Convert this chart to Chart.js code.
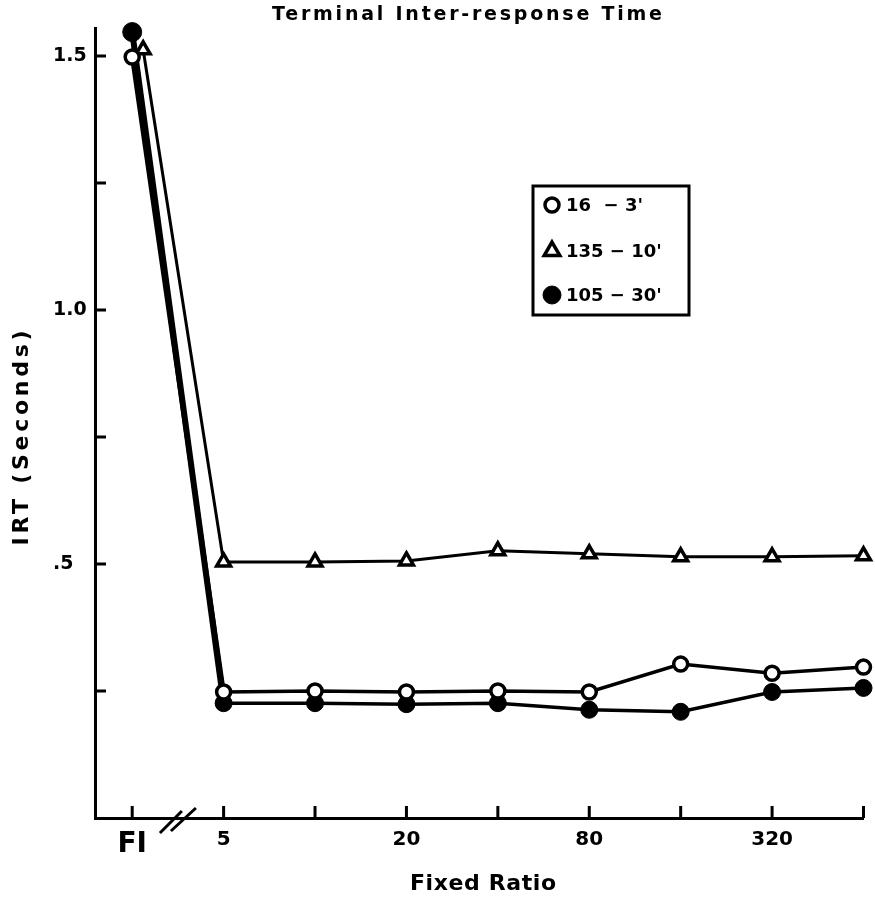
<!DOCTYPE html>
<html>
<head>
<meta charset="utf-8">
<title>Terminal Inter-response Time</title>
<style>
  html, body { margin: 0; padding: 0; background: #fff; }
  #wrap { width: 875px; height: 897px; }
</style>
<script src="https://cdn.jsdelivr.net/npm/chart.js@4.4.1/dist/chart.umd.min.js"></script>
</head>
<body>
<div id="wrap"><canvas id="irt"></canvas></div>
<script>
// schedules on the x axis: FI, then FR 5 ... 640 (only every other one is labelled)
const categories = ['FI', '5', '10', '20', '40', '80', '160', '320', '640'];
const xTickLabels = ['FI', '5', '', '20', '', '80', '', '320', ''];
const xPositions = [0, 1, 2, 3, 4, 5, 6, 7, 8];
// the triangle at FI sits a little to the right of the others
const trianglePositions = [0.12, 1, 2, 3, 4, 5, 6, 7, 8];

// IRT in seconds
const open16 = [1.498, 0.248, 0.25, 0.248, 0.25, 0.248, 0.303, 0.285, 0.297];
const tri135 = [1.512, 0.504, 0.504, 0.506, 0.526, 0.52, 0.514, 0.514, 0.516];
const filled105 = [1.547, 0.226, 0.226, 0.224, 0.226, 0.213, 0.209, 0.248, 0.256];

const legendLabels = ["16  \u2212 3'", "135 \u2212 10'", "105 \u2212 30'"];

const yTicks = [0, 0.25, 0.5, 0.75, 1.0, 1.25, 1.5];
const yTickLabels = ['', '', '.5', '', '1.0', '', '1.5'];

const FONT = '"DejaVu Sans", sans-serif';

function spacedText(ctx, text, x, y, width) {
  // draw text stretched to a given width with letter spacing, centred on x
  ctx.letterSpacing = '0px';
  const w0 = ctx.measureText(text).width;
  const sp = (width - w0) / (text.length - 1);
  ctx.letterSpacing = sp + 'px';
  ctx.textAlign = 'left';
  ctx.fillText(text, x - width / 2, y);
  ctx.letterSpacing = '0px';
}

const decor = {
  id: 'decor',
  beforeDatasetsDraw(chart) {
    const { ctx, chartArea: a, scales: { x, y } } = chart;
    ctx.save();
    ctx.strokeStyle = '#000';
    ctx.lineWidth = 3;
    ctx.beginPath();
    xPositions.forEach(v => {
      const px = x.getPixelForValue(v);
      ctx.moveTo(px, a.bottom);
      ctx.lineTo(px, a.bottom - 12);
    });
    yTicks.slice(1).forEach(v => {
      const py = y.getPixelForValue(v);
      ctx.moveTo(a.left, py);
      ctx.lineTo(a.left + 11, py);
    });
    ctx.stroke();

    // axis break between FI and 5
    const cx = x.getPixelForValue(0.5);
    ctx.beginPath();
    ctx.moveTo(cx - 18, a.bottom + 15);
    ctx.lineTo(cx + 4, a.bottom - 7);
    ctx.moveTo(cx - 7, a.bottom + 13);
    ctx.lineTo(cx + 18, a.bottom - 10);
    ctx.stroke();
    ctx.restore();
  },
  afterDraw(chart) {
    const { ctx } = chart;
    ctx.save();
    ctx.fillStyle = '#000';
    ctx.textBaseline = 'middle';

    ctx.font = 'bold 19px ' + FONT;
    spacedText(ctx, 'Terminal Inter-response Time', 467, 15, 390);

    ctx.font = 'bold 22px ' + FONT;
    spacedText(ctx, 'Fixed Ratio', 483, 884, 146);

    ctx.save();
    ctx.translate(22, 438);
    ctx.rotate(-Math.PI / 2);
    ctx.font = 'bold 22px ' + FONT;
    spacedText(ctx, 'IRT (Seconds)', 0, 0, 215);
    ctx.restore();

    // legend box
    ctx.strokeStyle = '#000';
    ctx.lineWidth = 3;
    ctx.strokeRect(533, 186, 156, 129);
    const rows = [205, 251, 295];
    chart.data.datasets.forEach((ds, i) => {
      ctx.lineWidth = ds.pointBorderWidth;
      ctx.strokeStyle = '#000';
      ctx.fillStyle = ds.legendFill;
      Chart.helpers.drawPoint(ctx, {
        pointStyle: ds.pointStyle,
        radius: ds.legendRadius,
        borderWidth: ds.pointBorderWidth,
        rotation: 0
      }, 552, rows[i]);
      ctx.fillStyle = '#000';
      ctx.font = 'bold 18px ' + FONT;
      ctx.textAlign = 'left';
      ctx.fillText(legendLabels[i], 566, rows[i] + 1);
    });
    ctx.restore();
  }
};

const ctx = document.getElementById('irt').getContext('2d');

new Chart(ctx, {
  type: 'line',
  data: {
    datasets: [
      {
        label: legendLabels[0],
        data: xPositions.map((v, i) => ({ x: v, y: open16[i] })),
        borderColor: '#000',
        borderWidth: 3.5,
        segment: { borderWidth: c => (c.p0DataIndex === 0 ? 4.5 : 3.5) },
        pointStyle: 'circle',
        pointRadius: 7,
        pointBorderWidth: 3.5,
        pointBackgroundColor: '#fff',
        pointBorderColor: '#000',
        legendFill: '#fff',
        legendRadius: 7,
        clip: false
      },
      {
        label: legendLabels[1],
        data: trianglePositions.map((v, i) => ({ x: v, y: tri135[i] })),
        borderColor: '#000',
        borderWidth: 3,
        pointStyle: 'triangle',
        pointRadius: 8,
        pointBorderWidth: 3.5,
        pointBackgroundColor: '#fff',
        pointBorderColor: '#000',
        legendFill: '#fff',
        legendRadius: 9,
        clip: false
      },
      {
        label: legendLabels[2],
        data: xPositions.map((v, i) => ({ x: v, y: filled105[i] })),
        borderColor: '#000',
        borderWidth: 3.5,
        segment: { borderWidth: c => (c.p0DataIndex === 0 ? 6 : 3.5) },
        pointStyle: 'circle',
        pointRadius: c => (c.dataIndex === 0 ? 9.5 : 8.5),
        pointBorderWidth: 1,
        pointBackgroundColor: '#000',
        pointBorderColor: '#000',
        legendFill: '#000',
        legendRadius: 9,
        clip: false
      }
    ]
  },
  options: {
    responsive: true,
    maintainAspectRatio: false,
    animation: false,
    devicePixelRatio: 1,
    layout: { padding: { left: 53, top: 28, right: 9, bottom: 0 } },
    scales: {
      x: {
        type: 'linear',
        min: -0.407,
        max: 8,
        afterBuildTicks: s => { s.ticks = xPositions.map(v => ({ value: v })); },
        afterFit: s => { s.height = 79; },
        grid: { display: false, drawTicks: false },
        border: { display: true, color: '#000', width: 3 },
        ticks: {
          autoSkip: false,
          maxRotation: 0,
          padding: 10,
          color: '#000',
          font: c => (c.index === 0
            ? { family: FONT, size: 28, weight: 'bold' }
            : { family: FONT, size: 20, weight: 'bold' }),
          callback: (v, i) => xTickLabels[i]
        }
      },
      y: {
        min: 0,
        max: 1.555,
        afterBuildTicks: s => { s.ticks = yTicks.map(v => ({ value: v })); },
        afterFit: s => { s.width = 42; },
        grid: { display: false, drawTicks: false },
        border: { display: true, color: '#000', width: 3 },
        ticks: {
          crossAlign: 'far',
          color: '#000',
          font: { family: FONT, size: 19, weight: 'bold' },
          callback: (v, i) => yTickLabels[i]
        }
      }
    },
    plugins: {
      legend: { display: false },
      tooltip: { enabled: false }
    }
  },
  plugins: [decor]
});
</script>
</body>
</html>
